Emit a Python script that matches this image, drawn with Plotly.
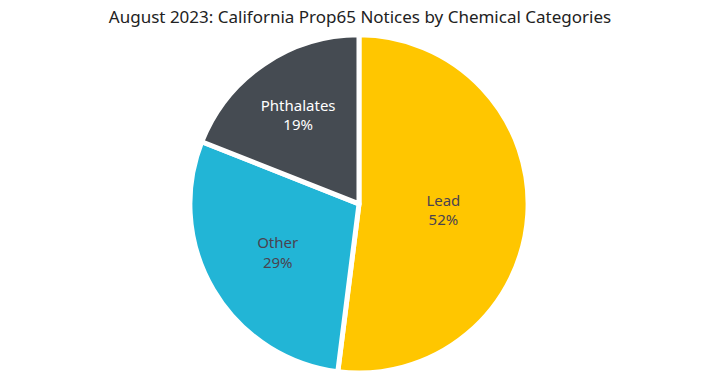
import plotly.graph_objects as go

labels = ["Lead", "Other", "Phthalates"]
values = [52, 29, 19]
colors = ["#FFC600", "#22B5D6", "#454B52"]
text_colors = ["#4A4350", "#4A4350", "#FFFFFF"]

fig = go.Figure(go.Pie(
    labels=labels,
    values=values,
    sort=False,
    direction="clockwise",
    rotation=0,
    domain=dict(x=[0.0, 0.9972], y=[0.026, 0.909]),
    marker=dict(colors=colors, line=dict(color="#FFFFFF", width=5)),
    textinfo="label+percent",
    texttemplate="%{label}<br>%{percent:.0%}",
    textposition="inside",
    insidetextorientation="horizontal",
    insidetextfont=dict(color=text_colors, size=15, family="Noto Sans"),
    hoverinfo="label+percent",
    showlegend=False,
))

fig.update_layout(
    width=720, height=383,
    margin=dict(t=0, b=0, l=0, r=0),
    paper_bgcolor="white",
    plot_bgcolor="white",
    title=dict(
        text="August 2023: California Prop65 Notices by Chemical Categories",
        x=0.5, xanchor="center", y=0.9556, yanchor="middle",
        font=dict(size=17, color="#222222", family="Noto Sans"),
    ),
)

fig.write_html("out.html", config={"displayModeBar": False},
               post_script="document.body.style.margin='0';")
